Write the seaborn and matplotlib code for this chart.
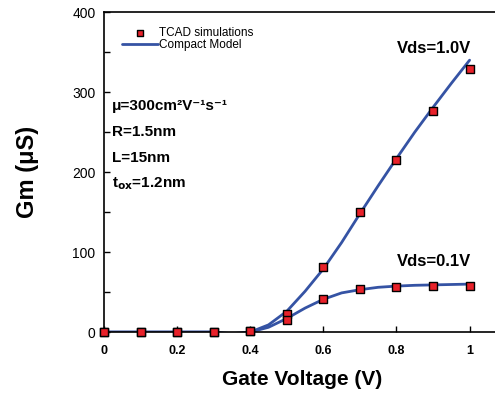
import numpy as np
import pandas as pd
import matplotlib
matplotlib.use("Agg")
import matplotlib.pyplot as plt
import seaborn as sns

# TCAD points
vg_pts = [0, 0.1, 0.2, 0.3, 0.4, 0.5, 0.6, 0.7, 0.8, 0.9, 1.0]
gm_tcad_10 = [0, 0, 0, 0, 1, 22, 81, 150, 215, 276, 329]
gm_tcad_01 = [0, 0, 0, 0, 1, 15, 41, 54, 56, 57.5, 57.5]

# compact model curves
vg_model = [0, 0.05, 0.1, 0.15, 0.2, 0.25, 0.3, 0.35, 0.4, 0.45, 0.5, 0.55,
            0.6, 0.65, 0.7, 0.75, 0.8, 0.85, 0.9, 0.95, 1.0]
gm_model_10 = [0, 0, 0, 0, 0, 0, 0, -3, 0, 9, 26, 51, 79, 112, 148, 183,
               217, 250, 281, 311, 340]
gm_model_01 = [0, 0, 0, 0, 0, 0, 0, -2, 0, 6, 17, 30, 41, 49, 53, 56,
               57.5, 58.5, 59, 59.5, 60]

sns.set_style("ticks")
plt.rcParams['font.family'] = ['Liberation Sans', 'DejaVu Sans']
plt.rcParams['text.color'] = 'black'
plt.rcParams['axes.labelcolor'] = 'black'
plt.rcParams['xtick.color'] = 'black'
plt.rcParams['ytick.color'] = 'black'
plt.rcParams['axes.edgecolor'] = 'black'

fig = plt.figure(figsize=(4.95, 3.93), dpi=100)
ax = fig.add_axes([0.21, 0.155, 0.80, 0.814])

blue = "#3553a4"
sns.lineplot(x=vg_model, y=gm_model_10, ax=ax, color=blue, lw=2, label="Compact Model")
sns.lineplot(x=vg_model, y=gm_model_01, ax=ax, color=blue, lw=2)
sns.scatterplot(x=vg_pts, y=gm_tcad_10, ax=ax, marker="s", s=40, color="#e8212a",
                edgecolor="black", linewidth=1, zorder=5, clip_on=False, label="TCAD simulations")
sns.scatterplot(x=vg_pts, y=gm_tcad_01, ax=ax, marker="s", s=40, color="#e8212a",
                edgecolor="black", linewidth=1, zorder=5, clip_on=False)

ax.set_xlim(0, 1.083)
ax.set_ylim(0, 400)
ax.set_xticks([0, 0.2, 0.4, 0.6, 0.8, 1.0])
ax.set_xticklabels(["0", "0.2", "0.4", "0.6", "0.8", "1"], fontsize=9)
ax.set_yticks([0, 100, 200, 300, 400])
ax.set_yticks([50, 150, 250, 350], minor=True)
ax.tick_params(axis="both", which="both", direction="in", length=4, width=1, labelsize=10, pad=6)
ax.tick_params(axis="x", labelsize=9, pad=9)
for lab in ax.get_xticklabels():
    lab.set_fontweight("bold")
ax.spines["right"].set_visible(False)
for s in ["left", "bottom", "top"]:
    ax.spines[s].set_linewidth(1.2)

ax.set_xlabel("Gate Voltage (V)", fontsize=15, fontweight="bold", labelpad=10)
ax.set_ylabel("Gm (μS)", fontsize=17, fontweight="bold", labelpad=24)

h, l = ax.get_legend_handles_labels()
leg = ax.legend(h[::-1], l[::-1], loc="upper left", frameon=False, fontsize=8.5,
                handlelength=3.0, borderpad=0.2, labelspacing=0.05, handletextpad=0.15,
                bbox_to_anchor=(0.025, 0.98))
leg.legend_handles[0].set_sizes([18])

ax.text(0.902, 355, "Vds=1.0V", fontsize=12, fontweight="bold", ha="center", va="center")
ax.text(0.902, 88, "Vds=0.1V", fontsize=12, fontweight="bold", ha="center", va="center")

ax.text(0.022, 283, "μ=300cm²V⁻¹s⁻¹", fontsize=11, fontweight="bold", ha="left", va="center")
params = ["R=1.5nm", "L=15nm"]
for i, t in enumerate(params):
    ax.text(0.022, 283 - (i + 1) * 32.5, t, fontsize=11, fontweight="bold", ha="left", va="center")
ax.text(0.022, 283 - 3 * 32.5, r"t$_{\mathrm{\mathbf{ox}}}$=1.2nm", fontsize=11, fontweight="bold",
        ha="left", va="center")

fig.savefig("out.png", dpi=100)
